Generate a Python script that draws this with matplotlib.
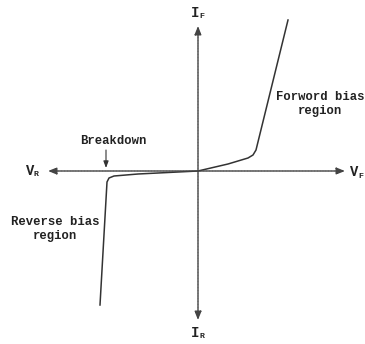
import numpy as np
import matplotlib
matplotlib.use("Agg")
from matplotlib import pyplot as plt

# diode I-V curve (arbitrary units, origin at axes crossing)
fwd_v = [0, 30, 50, 55, 58, 90]
fwd_i = [0, 7, 13, 16, 21, 151]
rev_v = [0, -60, -84, -89, -91, -98]
rev_i = [0, -3, -5, -7, -11, -134]

region_labels = ["Forword bias\nregion", "Reverse bias\nregion"]
breakdown_label = "Breakdown"

fig = plt.figure(figsize=(3.65, 3.44), dpi=100)
ax = fig.add_axes([0, 0, 1, 1])
ax.set_xlim(-198, 167)
ax.set_ylim(-173, 171)
ax.axis("off")

font = dict(family="Liberation Mono", weight="bold", color="#222222")
axis_col = "#444444"

# axes with arrows
arr = dict(arrowstyle="-|>,head_length=0.5,head_width=0.2", color=axis_col, lw=1.0,
           linestyle=(0, (1.5, 0.6)), shrinkA=0, shrinkB=0)
ax.annotate("", xy=(147, 0), xytext=(0, 0), arrowprops=arr)
ax.annotate("", xy=(-150, 0), xytext=(0, 0), arrowprops=arr)
ax.annotate("", xy=(0, 145), xytext=(0, 0), arrowprops=arr)
ax.annotate("", xy=(0, -149), xytext=(0, 0), arrowprops=arr)

# curve
ax.plot(fwd_v, fwd_i, color="#333333", lw=1.1)
ax.plot(rev_v, rev_i, color="#333333", lw=1.1)

# axis labels
def axlabel(x, y, main, sub):
    ax.text(x, y, main, fontsize=10, ha="left", va="center", **font)
    ax.text(x + 8, y - 4, sub, fontsize=6, ha="left", va="center", **font)

axlabel(-172, 0, "V", "R")
axlabel(152, -1, "V", "F")
axlabel(-7, 158, "I", "F")
axlabel(-7, -162, "I", "R")

# region text
ax.text(122, 67, region_labels[0], fontsize=8.8, ha="center", va="center",
        linespacing=1.25, **font)
ax.text(-143, -58, region_labels[1], fontsize=8.8, ha="center", va="center",
        linespacing=1.25, **font)

# breakdown
ax.text(-85, 30, breakdown_label, fontsize=8.8, ha="center", va="center", **font)
ax.annotate("", xy=(-92, 3), xytext=(-92, 21),
            arrowprops=dict(arrowstyle="-|>,head_length=0.4,head_width=0.15",
                            color="#333333", lw=0.8, shrinkA=0, shrinkB=0))

fig.savefig("out.png", dpi=100, facecolor="white")
